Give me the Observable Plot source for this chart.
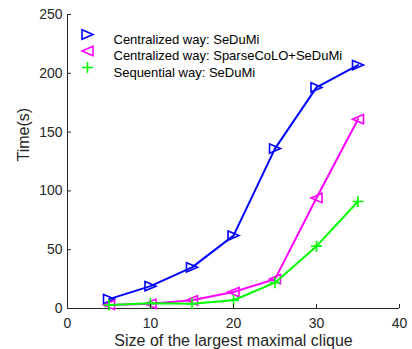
<!DOCTYPE html>
<html><head><meta charset="utf-8">
<script src="https://cdn.jsdelivr.net/npm/d3@7"></script>
<script src="https://cdn.jsdelivr.net/npm/@observablehq/plot@0.6"></script>
<style>body{margin:0;background:#fff;font-family:"Liberation Sans",Arial,sans-serif}</style>
</head><body><div id="chart"></div>
<script>
const cliqueSizes = [5, 10, 15, 20, 25, 30, 35];
const centralSeDuMi = [8, 19, 35, 62, 136, 188, 207];
const centralSparse = [3, 4, 7, 14, 25, 94, 161];
const sequentialSeDuMi = [3, 4.5, 4, 7, 22, 53, 91];
const seriesNames = ["Centralized way: SeDuMi", "Centralized way: SparseCoLO+SeDuMi", "Sequential way: SeDuMi"];
const seriesColors = ["#0000ff", "#ff00ff", "#00ff00"];
const xTicks = [0, 10, 20, 30, 40];
const yTicks = [0, 50, 100, 150, 200, 250];
const xLabel = "Size of the largest maximal clique";
const yLabel = "Time(s)";

const triRight = {draw(c, s){const r = Math.sqrt(s/Math.PI); c.moveTo(r,0); c.lineTo(-r,-r*0.85); c.lineTo(-r,r*0.85); c.closePath();}};
const triLeft = {draw(c, s){const r = Math.sqrt(s/Math.PI); c.moveTo(-r,0); c.lineTo(r,-r*0.85); c.lineTo(r,r*0.85); c.closePath();}};
const plusSym = {draw(c, s){const r = Math.sqrt(s/Math.PI); c.moveTo(-r,0); c.lineTo(r,0); c.moveTo(0,-r); c.lineTo(0,r);}};
const symbols = [triRight, triLeft, plusSym];

const allSeries = [centralSeDuMi, centralSparse, sequentialSeDuMi];
const rows = allSeries.flatMap((vals, i) => vals.map((v, j) => ({x: cliqueSizes[j], y: v, s: seriesNames[i], i})));

const marks = [];
const ink = "#262626";
marks.push(Plot.ruleX([0], {stroke: ink}));
marks.push(Plot.ruleY([0], {stroke: ink}));
allSeries.forEach((vals, i) => {
  const d = rows.filter(r => r.i === i);
  marks.push(Plot.line(d, {x: "x", y: "y", stroke: seriesColors[i], strokeWidth: 2}));
  marks.push(Plot.dot(d, {x: "x", y: "y", stroke: seriesColors[i], fill: "none", symbol: () => symbols[i], r: 5.5, strokeWidth: 1.6}));
  marks.push(Plot.dot([seriesNames[i]], {frameAnchor: "top-left", dx: 20, dy: 20 + 16.5*i, stroke: seriesColors[i], fill: "none", symbol: () => symbols[i], r: 5.5, strokeWidth: 1.6}));
  marks.push(Plot.text([seriesNames[i]], {frameAnchor: "top-left", dx: 46, dy: 20 + 16.5*i, text: d => d, textAnchor: "start", fontSize: 13, fill: "#000"}));
});
marks.push(Plot.axisX({ticks: xTicks, tickSize: -4, tickPadding: 14, fontSize: 14, color: ink, label: null}));
marks.push(Plot.axisY({ticks: yTicks, tickSize: -4, tickPadding: 9, fontSize: 14, color: ink, label: null}));
marks.push(Plot.text([xLabel], {frameAnchor: "bottom", dy: 32, lineAnchor: "middle", text: d => d, fontSize: 16, fill: ink}));
marks.push(Plot.text([yLabel], {frameAnchor: "left", dx: -44, rotate: -90, lineAnchor: "middle", text: d => d, fontSize: 16, fill: ink}));

const chart = Plot.plot({
  width: 412, height: 349,
  marginLeft: 67, marginRight: 13, marginTop: 14, marginBottom: 41,
  style: {fontFamily: "'Liberation Sans', Arial, sans-serif", color: ink, background: "#fff"},
  x: {domain: [0, 40]},
  y: {domain: [0, 250]},
  symbol: {type: "identity"},
  marks
});
document.getElementById("chart").append(chart);
</script></body></html>
